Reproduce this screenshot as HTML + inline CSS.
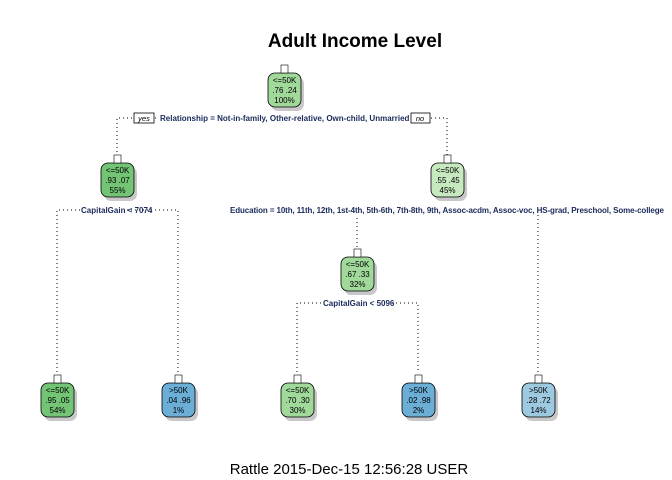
<!DOCTYPE html>
<html><head><meta charset="utf-8"><style>
body{margin:0;background:#fff;}
svg{display:block;font-family:"Liberation Sans",Arial,sans-serif;}
.l{fill:none;stroke:#000;stroke-width:1;stroke-dasharray:1 3;}
.t{font-size:8px;fill:#000;text-anchor:middle;}
.s{font-size:8px;font-weight:bold;fill:#1a2a5a;}
</style></head><body>
<svg width="672" height="480" viewBox="0 0 672 480">
<text x="355" y="47" font-size="19" font-weight="bold" text-anchor="middle">Adult Income Level</text>
<text x="349" y="474" font-size="15" text-anchor="middle">Rattle 2015-Dec-15 12:56:28 USER</text>

<!-- connectors -->
<path class="l" d="M117,160 V118 H447 V160"/>
<path class="l" d="M57,372 V210 H178 V372"/>
<path class="l" d="M357,255 V210 M538,372 V210"/>
<path class="l" d="M297,372 V303 H418 V372"/>

<!-- labels -->
<rect x="134" y="113" width="20" height="10" fill="#fff" stroke="#000" stroke-width="0.8"/>
<text x="144" y="121" font-size="7.5" font-style="italic" text-anchor="middle">yes</text>
<rect x="158" y="113" width="250" height="10" fill="#fff"/>
<text x="160" y="121" class="s">Relationship =  Not-in-family, Other-relative, Own-child, Unmarried</text>
<rect x="411" y="113" width="19" height="10" fill="#fff" stroke="#000" stroke-width="0.8"/>
<text x="420" y="121" font-size="7.5" font-style="italic" text-anchor="middle">no</text>

<rect x="80" y="206" width="45" height="9" fill="#fff"/>
<text x="81" y="213" class="s">CapitalGain &lt; 7074</text>
<rect x="228" y="206" width="440" height="9" fill="#fff"/>
<text x="230" y="213" class="s" textLength="434">Education =  10th, 11th, 12th, 1st-4th, 5th-6th, 7th-8th, 9th, Assoc-acdm, Assoc-voc, HS-grad, Preschool, Some-college</text>
<rect x="322" y="299" width="70" height="9" fill="#fff"/>
<text x="323" y="306" class="s">CapitalGain &lt; 5096</text>

<!-- nodes -->
<g id="nodes">
</g>
<defs>
<g id="n"></g>
</defs>
<!-- root -->
<g transform="translate(284,73)">
<rect x="-13" y="4" width="33" height="34" rx="7" fill="#c8c8c8"/>
<rect x="-16" y="0" width="33" height="34" rx="7" fill="#a1d99b" stroke="#000" stroke-width="0.8"/>
<rect x="-3" y="-8" width="7" height="8" fill="#fff" stroke="#000" stroke-width="0.6"/>
<text class="t" x="0.5" y="10">&lt;=50K</text><text class="t" x="0.5" y="20">.76  .24</text><text class="t" x="0.5" y="30">100%</text>
</g>
<g transform="translate(117,163)">
<rect x="-13" y="4" width="33" height="34" rx="7" fill="#c8c8c8"/>
<rect x="-16" y="0" width="33" height="34" rx="7" fill="#74c476" stroke="#000" stroke-width="0.8"/>
<rect x="-3" y="-8" width="7" height="8" fill="#fff" stroke="#000" stroke-width="0.6"/>
<text class="t" x="0.5" y="10">&lt;=50K</text><text class="t" x="0.5" y="20">.93  .07</text><text class="t" x="0.5" y="30">55%</text>
</g>
<g transform="translate(447,163)">
<rect x="-13" y="4" width="33" height="34" rx="7" fill="#c8c8c8"/>
<rect x="-16" y="0" width="33" height="34" rx="7" fill="#c7e9c0" stroke="#000" stroke-width="0.8"/>
<rect x="-3" y="-8" width="7" height="8" fill="#fff" stroke="#000" stroke-width="0.6"/>
<text class="t" x="0.5" y="10">&lt;=50K</text><text class="t" x="0.5" y="20">.55  .45</text><text class="t" x="0.5" y="30">45%</text>
</g>
<g transform="translate(357,257)">
<rect x="-13" y="4" width="33" height="34" rx="7" fill="#c8c8c8"/>
<rect x="-16" y="0" width="33" height="34" rx="7" fill="#a1d99b" stroke="#000" stroke-width="0.8"/>
<rect x="-3" y="-8" width="7" height="8" fill="#fff" stroke="#000" stroke-width="0.6"/>
<text class="t" x="0.5" y="10">&lt;=50K</text><text class="t" x="0.5" y="20">.67  .33</text><text class="t" x="0.5" y="30">32%</text>
</g>
<g transform="translate(57,383)">
<rect x="-13" y="4" width="33" height="34" rx="7" fill="#c8c8c8"/>
<rect x="-16" y="0" width="33" height="34" rx="7" fill="#74c476" stroke="#000" stroke-width="0.8"/>
<rect x="-3" y="-8" width="7" height="8" fill="#fff" stroke="#000" stroke-width="0.6"/>
<text class="t" x="0.5" y="10">&lt;=50K</text><text class="t" x="0.5" y="20">.95  .05</text><text class="t" x="0.5" y="30">54%</text>
</g>
<g transform="translate(178,383)">
<rect x="-13" y="4" width="33" height="34" rx="7" fill="#c8c8c8"/>
<rect x="-16" y="0" width="33" height="34" rx="7" fill="#6baed6" stroke="#000" stroke-width="0.8"/>
<rect x="-3" y="-8" width="7" height="8" fill="#fff" stroke="#000" stroke-width="0.6"/>
<text class="t" x="0.5" y="10">&gt;50K</text><text class="t" x="0.5" y="20">.04  .96</text><text class="t" x="0.5" y="30">1%</text>
</g>
<g transform="translate(297,383)">
<rect x="-13" y="4" width="33" height="34" rx="7" fill="#c8c8c8"/>
<rect x="-16" y="0" width="33" height="34" rx="7" fill="#a1d99b" stroke="#000" stroke-width="0.8"/>
<rect x="-3" y="-8" width="7" height="8" fill="#fff" stroke="#000" stroke-width="0.6"/>
<text class="t" x="0.5" y="10">&lt;=50K</text><text class="t" x="0.5" y="20">.70  .30</text><text class="t" x="0.5" y="30">30%</text>
</g>
<g transform="translate(418,383)">
<rect x="-13" y="4" width="33" height="34" rx="7" fill="#c8c8c8"/>
<rect x="-16" y="0" width="33" height="34" rx="7" fill="#6baed6" stroke="#000" stroke-width="0.8"/>
<rect x="-3" y="-8" width="7" height="8" fill="#fff" stroke="#000" stroke-width="0.6"/>
<text class="t" x="0.5" y="10">&gt;50K</text><text class="t" x="0.5" y="20">.02  .98</text><text class="t" x="0.5" y="30">2%</text>
</g>
<g transform="translate(538,383)">
<rect x="-13" y="4" width="33" height="34" rx="7" fill="#c8c8c8"/>
<rect x="-16" y="0" width="33" height="34" rx="7" fill="#9ecae1" stroke="#000" stroke-width="0.8"/>
<rect x="-3" y="-8" width="7" height="8" fill="#fff" stroke="#000" stroke-width="0.6"/>
<text class="t" x="0.5" y="10">&gt;50K</text><text class="t" x="0.5" y="20">.28  .72</text><text class="t" x="0.5" y="30">14%</text>
</g>
</svg>
</body></html>
